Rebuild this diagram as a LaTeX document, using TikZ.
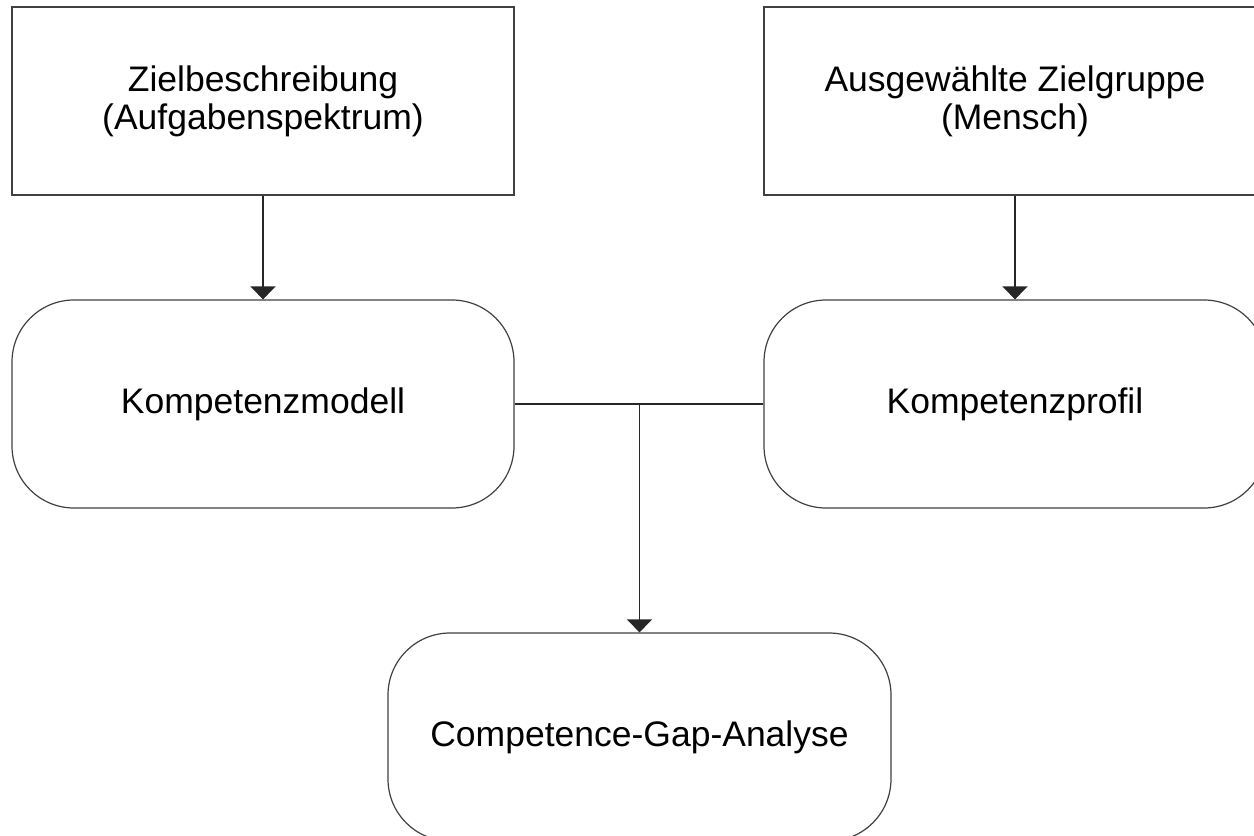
\documentclass[tikz,border=0pt]{standalone}
\usepackage{fontspec}
\setmainfont{Liberation Sans}
\usetikzlibrary{arrows.meta}
\begin{document}
\begin{tikzpicture}[x=1pt,y=-1pt,
  line width=1.2pt,
  box/.style={draw=black!75, fill=white, rectangle, inner sep=0pt,
    minimum width=502pt, align=center,
    font=\fontsize{35.5}{38}\selectfont},
  plainbox/.style={box, minimum height=188pt},
  roundbox/.style={box, minimum height=208pt, rounded corners=62pt},
  flow/.style={draw=black!85, -{Triangle[width=25pt,length=13pt]}},
  link/.style={draw=black!85}]
  \useasboundingbox (0,0) rectangle (1254,836);
  \clip (0,0) rectangle (1254,836);

  % input boxes
  \node[plainbox] (ziel) at (263,101) {Zielbeschreibung\\(Aufgabenspektrum)};
  \node[plainbox] (gruppe) at (1015,101) {Ausgewählte Zielgruppe\\(Mensch)};

  % competence boxes
  \node[roundbox] (modell) at (263,404) {Kompetenzmodell};
  \node[roundbox] (profil) at (1015,404) {Kompetenzprofil};

  % analysis box
  \node[roundbox, minimum width=503pt] (gap) at (639.5,737) {Competence-Gap-Analyse};

  % connectors
  \draw[flow] (ziel.south) -- (modell.north);
  \draw[flow] (gruppe.south) -- (profil.north);
  \draw[link] (modell.east) -- (profil.west);
  \coordinate (join) at (gap.north |- modell.east);
  \draw[flow] (join) -- (gap.north);
\end{tikzpicture}
\end{document}
